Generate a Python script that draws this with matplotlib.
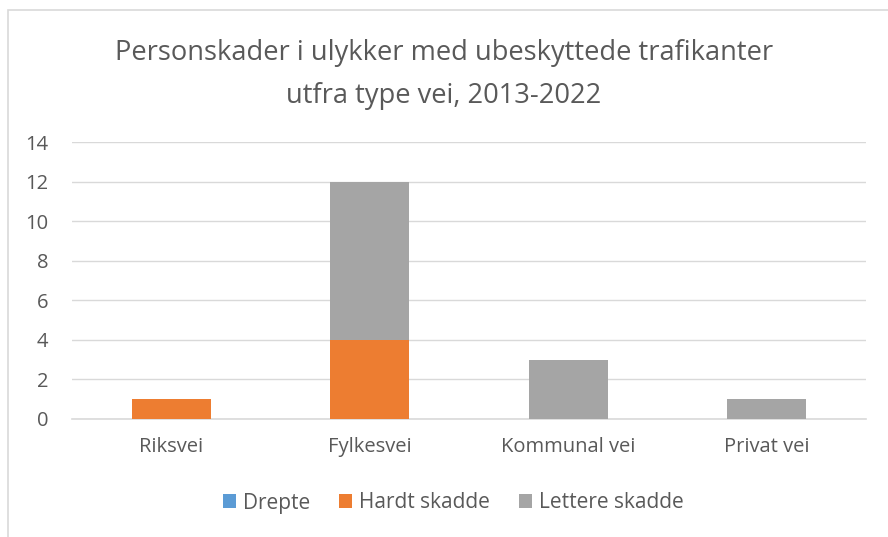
import matplotlib
matplotlib.use("Agg")
import matplotlib.pyplot as plt
from matplotlib.patches import Rectangle
import numpy as np

categories = ["Riksvei", "Fylkesvei", "Kommunal vei", "Privat vei"]
drepte = [0, 0, 0, 0]
hardt_skadde = [1, 4, 0, 0]
lettere_skadde = [0, 8, 3, 1]
series_names = ["Drepte", "Hardt skadde", "Lettere skadde"]
colors = ["#5B9BD5", "#ED7D31", "#A5A5A5"]
yticks = [0, 2, 4, 6, 8, 10, 12, 14]

plt.rcParams['font.family'] = ['Open Sans', 'DejaVu Sans']
txt = "#595959"

fig = plt.figure(figsize=(8.88, 5.37), dpi=100)
fig.patches.append(Rectangle((8/888, -0.1), 1.2, (537-10)/537 + 0.1, transform=fig.transFigure,
                             fill=False, edgecolor="#d9d9d9", linewidth=1.2, zorder=0))
ax = fig.add_axes([72/888, 1 - 419/537, (866-72)/888, (419-142)/537])

x = np.arange(len(categories))
w = 0.4
bottom = np.zeros(len(categories))
for name, vals, c in zip(series_names, [drepte, hardt_skadde, lettere_skadde], colors):
    ax.bar(x, vals, w, bottom=bottom, color=c, label=name, zorder=3)
    bottom += np.array(vals)

ax.set_xlim(-0.5, len(categories) - 0.5)
ax.set_ylim(0, 14)
ax.set_yticks(yticks)
ax.set_yticklabels([str(t) for t in yticks])
ax.set_xticks(x)
ax.set_xticklabels(categories)
ax.grid(axis='y', color="#d9d9d9", linewidth=1, zorder=0)
for s in ["top", "right", "left"]:
    ax.spines[s].set_visible(False)
ax.spines["bottom"].set_color("#d9d9d9")
ax.spines["bottom"].set_linewidth(1.2)
ax.tick_params(axis='both', length=0, labelsize=14.5, colors=txt)
ax.tick_params(axis='y', pad=17)
ax.tick_params(axis='x', pad=13)

fig.text(0.5, 1 - 53/537, "Personskader i ulykker med ubeskyttede trafikanter", ha="center", va="center",
         fontsize=19.6, color=txt)
fig.text(0.5, 1 - 96/537, "utfra type vei, 2013-2022", ha="center", va="center",
         fontsize=19.6, color=txt)

leg = fig.legend(loc="center", bbox_to_anchor=(453/888, 1 - 503/537), ncol=3, frameon=False,
                 fontsize=15, handlelength=0.65, handleheight=0.65, handletextpad=0.3, columnspacing=1.4,
                 labelcolor=txt)

fig.savefig("out.png", dpi=100)
